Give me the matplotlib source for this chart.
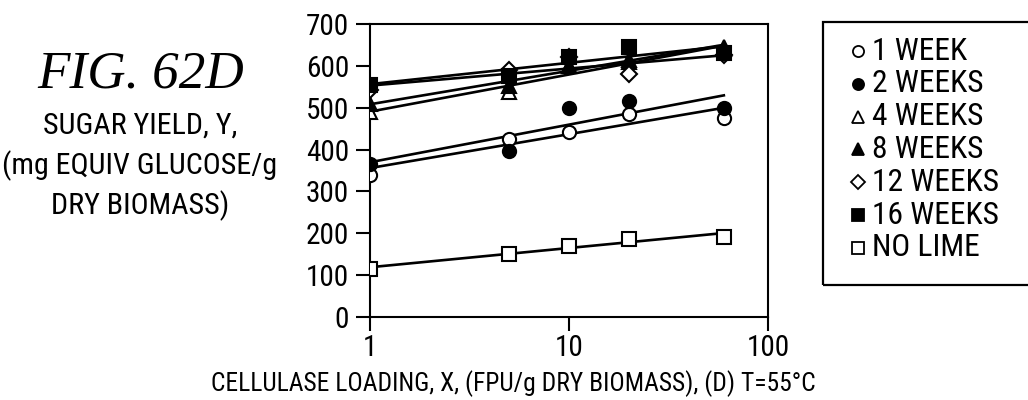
import numpy as np
import matplotlib
matplotlib.use("Agg")
import matplotlib.pyplot as plt
from matplotlib.patches import Rectangle
from matplotlib.lines import Line2D

# condensed lettering of the drawing
plt.rcParams['font.family'] = ['Roboto Condensed', 'Liberation Sans', 'DejaVu Sans']

loading = [1, 5, 10, 20, 60]
labels = ["1 WEEK", "2 WEEKS", "4 WEEKS", "8 WEEKS", "12 WEEKS", "16 WEEKS", "NO LIME"]
markers = ["o", "o", "^", "^", "D", "s", "s"]
filled = [False, True, False, True, False, True, False]

wk1 = [340, 425, 441, 485, 475]
wk2 = [366, 397, 500, 515, 500]
wk4 = [490, 537, 600, 610, 640]
wk8 = [509, 553, 600, 615, 646]
wk12 = [543, 590, 620, 580, 626]
wk16 = [555, 575, 620, 645, 630]
nolime = [115, 150, 170, 187, 192]
yields = [wk1, wk2, wk4, wk8, wk12, wk16, nolime]

W, H = 1028, 400
fig = plt.figure(figsize=(W / 100, H / 100), dpi=100)
ax = fig.add_axes([370 / W, 1 - 317 / H, (768 - 370) / W, (317 - 24) / H])
rend = fig.canvas.get_renderer()


def fit_width(t, px):
    # scale a text until it spans px pixels
    for _ in range(4):
        w = t.get_window_extent(rend).width
        t.set_fontsize(t.get_fontsize() * px / w)
    return t.get_fontsize()


lx = np.log10(loading)
for y, m, f in zip(yields, markers, filled):
    # straight fit against log loading
    k, b = np.polyfit(lx, y, 1)
    ax.plot([loading[0], loading[-1]], [b, k * lx[-1] + b], color="black", lw=1.9, zorder=2)
    ms = 8.5 if m == "D" else 9.5
    ax.plot(loading, y, linestyle="none", marker=m, ms=ms, mew=1.5,
            mec="black", mfc="black" if f else "white", zorder=3)

ax.set_xscale("log")
ax.set_xlim(1, 100)
ax.set_ylim(0, 700)
ax.set_yticks(range(0, 701, 100))
ax.set_xticks([1, 10, 100])
ax.set_xticklabels(["1", "10", "100"])
ax.xaxis.set_minor_locator(plt.NullLocator())
for s in ax.spines.values():
    s.set_linewidth(1.5)

probe = fig.text(0.5, 0.5, "600", fontsize=20)
tsize = fit_width(probe, 43)
probe.remove()
ax.tick_params(axis="both", labelsize=tsize, direction="out", length=10, width=1.5)
ax.tick_params(axis="y", pad=5)
ax.tick_params(axis="x", pad=2)

ft = fig.text(141 / W, 1 - 75 / H, "FIG. 62D", family=["Liberation Serif", "DejaVu Serif"],
              style="italic", fontsize=30, ha="center", va="center")
fit_width(ft, 207)

ylab = ["SUGAR YIELD, Y,", "(mg EQUIV GLUCOSE/g", "DRY BIOMASS)"]
yt = [fig.text(140 / W, 1 - (126 + 40 * i) / H, s, fontsize=20, ha="center", va="center")
      for i, s in enumerate(ylab)]
ysize = fit_width(yt[1], 275)
for t in yt:
    t.set_fontsize(ysize)

# axis title, a little smaller than the side label
fig.text(513 / W, 1 - 384 / H, "CELLULASE LOADING, X, (FPU/g DRY BIOMASS), (D) T=55°C",
         fontsize=ysize * 0.85, ha="center", va="center")

# key box runs off the right edge
fig.patches.append(Rectangle((823 / W, 1 - 285 / H), 220 / W, 263 / H, transform=fig.transFigure,
                             fill=False, edgecolor="black", lw=1.6))
kt = []
for i, (m, f, lab) in enumerate(zip(markers, filled, labels)):
    yk = 1 - (51 + 32.8 * i) / H
    fig.add_artist(Line2D([858 / W], [yk], transform=fig.transFigure, linestyle="none", marker=m,
                          ms=8 if m != "D" else 7, mew=1.3, mec="black",
                          mfc="black" if f else "white"))
    kt.append(fig.text(872 / W, yk, lab, fontsize=18, ha="left", va="center"))
ksize = fit_width(kt[4], 127)
for t in kt:
    t.set_fontsize(ksize)

fig.savefig("out.png", dpi=100)
